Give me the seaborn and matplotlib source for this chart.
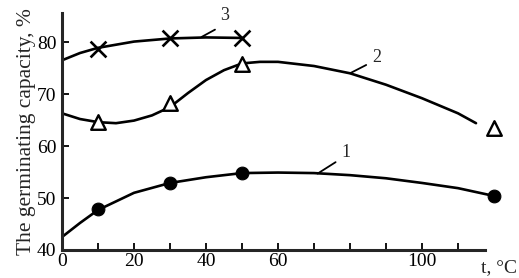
import matplotlib
matplotlib.use("Agg")
import matplotlib.pyplot as plt
import seaborn as sns

# curve 1 (filled circles)
c1_t = [0, 5, 10, 20, 30, 40, 50, 60, 70, 80, 90, 100, 110, 120]
c1_y = [42.5, 45.2, 47.7, 51.0, 52.9, 54.0, 54.8, 54.9, 54.8, 54.4, 53.8, 52.9, 51.9, 50.4]
p1_t = [10, 30, 50, 120]
p1_y = [47.9, 52.9, 54.8, 50.4]

# curve 2 (open triangles)
c2_t = [0, 5, 10, 15, 20, 25, 30, 35, 40, 45, 50, 55, 60, 70, 80, 90, 100, 110, 115]
c2_y = [66.3, 65.2, 64.6, 64.4, 64.9, 65.9, 67.5, 70.2, 72.7, 74.6, 75.9, 76.2, 76.2, 75.4, 74.0, 71.8, 69.2, 66.3, 64.4]
p2_t = [10, 30, 50, 120]
p2_y = [64.6, 68.2, 75.8, 63.4]

# curve 3 (crosses)
c3_t = [0, 5, 10, 20, 30, 40, 50]
c3_y = [76.5, 77.9, 78.9, 80.1, 80.7, 80.9, 80.8]
p3_t = [10, 30, 50]
p3_y = [78.7, 80.8, 80.8]

x_ticks = [0, 20, 40, 60, 100]
x_minor = [10, 30, 50, 70, 80, 90, 110]
y_ticks = [40, 50, 60, 70, 80]

sns.set_style("ticks")
plt.rcParams['font.family'] = ['Liberation Serif', 'DejaVu Serif']

fig = plt.figure(figsize=(5.19, 2.78), dpi=100)
ax = fig.add_axes([62 / 519, 28 / 278, 450 / 519, 237 / 278])

lw = 1.9
for t, y in [(c1_t, c1_y), (c2_t, c2_y), (c3_t, c3_y)]:
    sns.lineplot(x=t, y=y, color='black', linewidth=lw, sort=False, ax=ax)

sns.scatterplot(x=p1_t, y=p1_y, marker='o', s=85, color='black', edgecolor='black', ax=ax, zorder=5)
sns.scatterplot(x=p2_t, y=p2_y, marker='^', s=110, facecolor='white', edgecolor='black', linewidth=1.7, ax=ax, zorder=5)
sns.scatterplot(x=p3_t, y=p3_y, marker='x', s=130, color='black', linewidth=1.9, ax=ax, zorder=5)

# curve numbers with leader lines
for (x0, y0, x1, y1, tx, ty, s) in [(71, 54.7, 76, 56.9, 78.8, 58.8, '1'),
                                    (80, 74.0, 84.5, 75.6, 87.5, 77.0, '2'),
                                    (38.8, 81.0, 42.5, 82.4, 45.3, 85.2, '3')]:
    ax.plot([x0, x1], [y0, y1], color='black', linewidth=1.3)
    ax.text(tx, ty, s, fontsize=13, ha='center', va='center')

ax.set_xlim(0, 125)
ax.set_ylim(40, 85.6)
ax.set_xticks(x_ticks)
ax.set_xticks(x_minor, minor=True)
ax.set_yticks(y_ticks)
ax.tick_params(axis='both', which='both', direction='in', length=5, width=1.3,
               labelsize=14, colors='black')
ax.tick_params(axis='x', pad=2)
ax.tick_params(axis='y', pad=4)

sns.despine(ax=ax)
ax.spines['left'].set_linewidth(2.2)
ax.spines['bottom'].set_linewidth(2.2)
ax.spines['bottom'].set_bounds(0, 117.5)
ax.spines['left'].set_bounds(40, 85.6)

ax.set_ylabel("The germinating capacity, %", fontsize=15.5, labelpad=1)
ax.set_xlabel("")
ax.text(121.5, 38.2, "t, °C", fontsize=14, ha='center', va='top')

fig.savefig("out.png", dpi=100, facecolor='white')
